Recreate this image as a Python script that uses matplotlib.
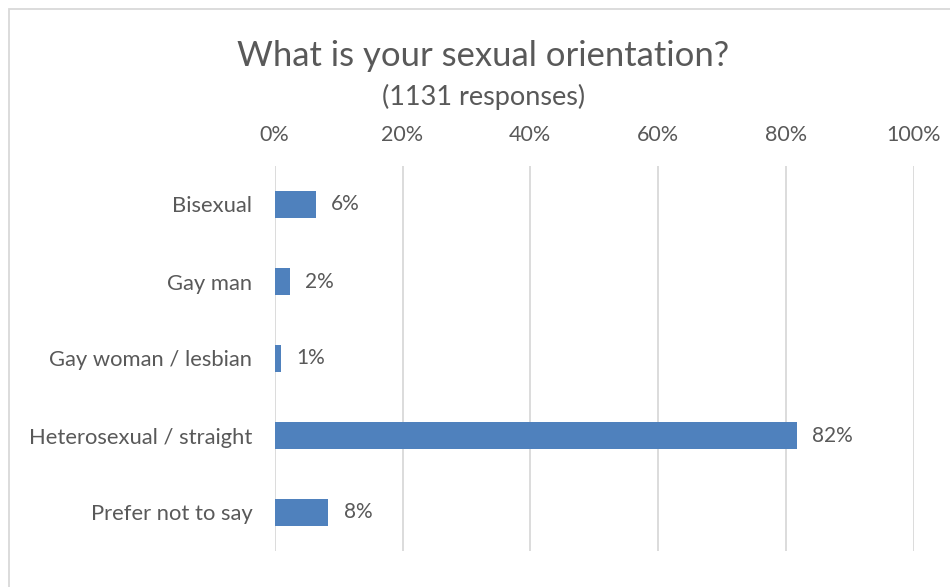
import matplotlib
matplotlib.use("Agg")
import matplotlib.pyplot as plt
from matplotlib.patches import Rectangle

plt.rcParams['font.family'] = ['Lato', 'DejaVu Sans']

categories = ["Bisexual", "Gay man", "Gay woman / lesbian",
              "Heterosexual / straight", "Prefer not to say"]
shares = [6.4, 2.4, 1.0, 81.7, 8.4]
tick_values = [0, 20, 40, 60, 80, 100]
tick_labels = ["0%", "20%", "40%", "60%", "80%", "100%"]
title = "What is your sexual orientation?"
subtitle = "(1131 responses)"

W, H = 950, 587
fig = plt.figure(figsize=(W / 100, H / 100), dpi=100)
fig.patch.set_facecolor("white")

# chart-area frame, running off the right and bottom edges
fig.patches.append(Rectangle((9 / W, -0.05), 1.1, 1 - 9 / H + 0.05,
                             transform=fig.transFigure, fill=False,
                             edgecolor="#d9d9d9", linewidth=1.3))

ax = fig.add_axes([274.7 / W, 1 - 551 / H, (913.7 - 274.7) / W, (551 - 166) / H])
text_color = "#595959"
bar_color = "#4f81bd"

y = list(range(len(categories)))
ax.barh(y, shares, height=0.36, color=bar_color, zorder=3)
for yi, v in zip(y, shares):
    ax.text(v + 2.4, yi, f"{round(v)}%", va="center", ha="left",
            fontsize=15, color=text_color)

ax.set_xlim(0, 100)
ax.set_ylim(len(categories) - 0.5, -0.5)
ax.set_xticks(tick_values)
ax.set_xticklabels(tick_labels)
ax.xaxis.tick_top()
ax.set_yticks(y)
ax.set_yticklabels(categories)
ax.tick_params(axis="x", length=0, pad=15, labelsize=15.5, labelcolor=text_color)
ax.tick_params(axis="y", length=0, pad=16, labelsize=15.8, labelcolor=text_color)
ax.grid(axis="x", color="#d9d9d9", linewidth=1.3, zorder=0)
for s in ax.spines.values():
    s.set_visible(False)

fig.text(483 / W, 1 - 56 / H, title, ha="center", va="center",
         fontsize=24.9, color=text_color)
fig.text(484 / W, 1 - 97 / H, subtitle, ha="center", va="center",
         fontsize=19.5, color=text_color)

fig.savefig("out.png", dpi=100)
